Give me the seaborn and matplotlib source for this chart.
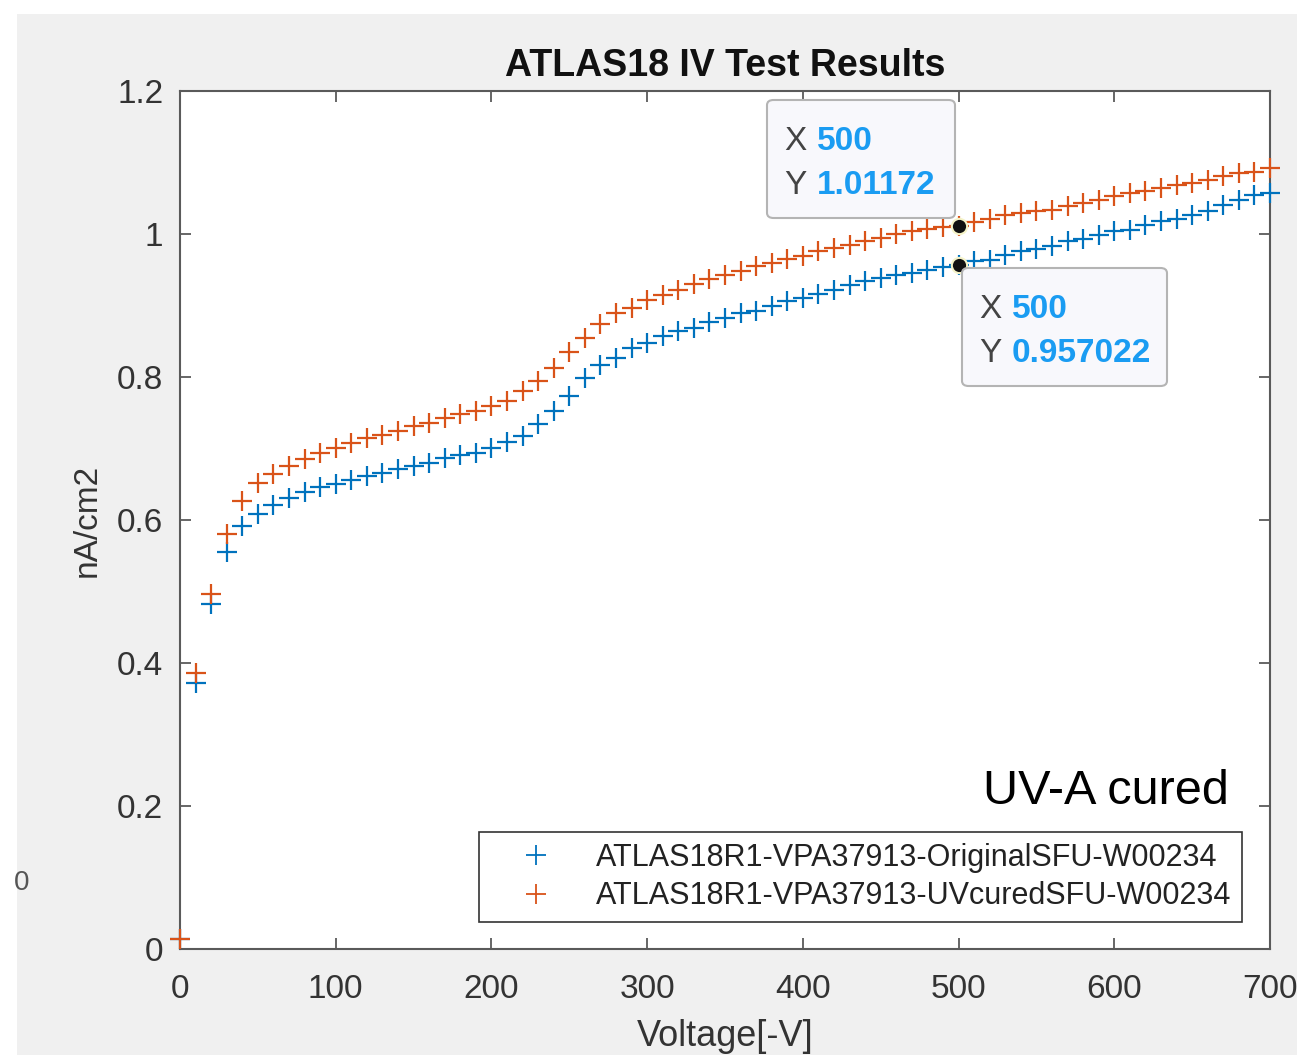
import matplotlib
matplotlib.use('Agg')
import matplotlib.pyplot as plt
import numpy as np
import pandas as pd
import seaborn as sns
from matplotlib.patches import Rectangle, FancyBboxPatch

# ---------------- data ----------------
voltage = list(range(0, 701, 10))
original = [0.014, 0.372, 0.482, 0.555, 0.591, 0.609, 0.621, 0.631, 0.639, 0.646,
            0.650, 0.656, 0.661, 0.666, 0.671, 0.676, 0.680, 0.687, 0.691, 0.694,
            0.701, 0.709, 0.718, 0.734, 0.753, 0.774, 0.798, 0.817, 0.827, 0.840,
            0.847, 0.857, 0.864, 0.868, 0.877, 0.883, 0.890, 0.893, 0.900, 0.906,
            0.910, 0.916, 0.922, 0.929, 0.934, 0.938, 0.943, 0.946, 0.950, 0.954,
            0.957022, 0.962, 0.964, 0.971, 0.976, 0.979, 0.983, 0.990, 0.993, 0.998,
            1.004, 1.006, 1.013, 1.018, 1.021, 1.026, 1.032, 1.041, 1.048, 1.055,
            1.057]
uvcured = [0.014, 0.386, 0.496, 0.580, 0.627, 0.652, 0.664, 0.676, 0.685, 0.694,
           0.701, 0.707, 0.715, 0.719, 0.725, 0.731, 0.736, 0.743, 0.748, 0.753,
           0.759, 0.767, 0.781, 0.794, 0.812, 0.835, 0.855, 0.874, 0.889, 0.897,
           0.908, 0.915, 0.921, 0.930, 0.937, 0.942, 0.948, 0.955, 0.959, 0.965,
           0.969, 0.976, 0.980, 0.985, 0.990, 0.995, 1.000, 1.004, 1.007, 1.010,
           1.01172, 1.017, 1.021, 1.026, 1.029, 1.032, 1.034, 1.039, 1.043, 1.048,
           1.053, 1.057, 1.060, 1.064, 1.069, 1.071, 1.076, 1.081, 1.085, 1.087,
           1.092]
label_orig = 'ATLAS18R1-VPA37913-OriginalSFU-W00234'
label_uv = 'ATLAS18R1-VPA37913-UVcuredSFU-W00234'
x_ticks = [0, 100, 200, 300, 400, 500, 600, 700]
y_ticks = [0, 0.2, 0.4, 0.6, 0.8, 1.0, 1.2]
y_tick_labels = ['0', '0.2', '0.4', '0.6', '0.8', '1', '1.2']
tip_voltage = 500
title = 'ATLAS18 IV Test Results'
xlabel = 'Voltage[-V]'
ylabel = 'nA/cm2'
annotation = 'UV-A cured'

# ---------------- style ----------------
sns.set_theme(style='white')
plt.rcParams['font.family'] = ['Liberation Sans', 'DejaVu Sans']

BLUE = '#0072BD'
ORANGE = '#D95319'
AXC = '#5a5a5a'

W, H = 1297, 1055
fig = plt.figure(figsize=(W / 100, H / 100), dpi=100)
fig.patch.set_facecolor('white')
fig.patches.append(Rectangle((17 / W, 0), 1, 1 - 14 / H, transform=fig.transFigure,
                             facecolor='#f0f0f0', edgecolor='none', zorder=-10))

ax = fig.add_axes([180 / W, 1 - 949 / H, 1090 / W, 858 / H])
ax.set_facecolor('white')

n = len(voltage)
df = pd.DataFrame({'V': voltage * 2,
                   'I': original + uvcured,
                   'series': [label_orig] * n + [label_uv] * n})

for lab, col in [(label_orig, BLUE), (label_uv, ORANGE)]:
    sub = df[df['series'] == lab]
    sns.lineplot(data=sub, x='V', y='I', ax=ax, color=col, marker='+',
                 linestyle='', markersize=15, markeredgewidth=1.6,
                 markeredgecolor=col, markerfacecolor=col,
                 errorbar=None, label=lab, clip_on=False, zorder=3)

ax.set_xlim(0, 700)
ax.set_ylim(0, 1.2)
ax.set_xticks(x_ticks)
ax.set_xticklabels([str(t) for t in x_ticks])
ax.set_yticks(y_ticks)
ax.set_yticklabels(y_tick_labels)
ax.tick_params(direction='in', length=8, width=1.3, color=AXC, labelcolor='#333333',
               labelsize=24, top=True, right=True, bottom=True, left=True)
ax.tick_params(axis='x', pad=18)
ax.tick_params(axis='y', pad=12)
for s in ax.spines.values():
    s.set_color(AXC)
    s.set_linewidth(1.5)
    s.set_visible(True)

ax.set_title(title, fontsize=27, fontweight='bold', pad=11, color='#111111')
ax.set_xlabel(xlabel, fontsize=26, color='#333333')
ax.set_ylabel(ylabel, fontsize=24, color='#333333')
ax.xaxis.set_label_coords(0.5, -0.082)
ax.yaxis.set_label_coords(-0.071, 0.5)

leg = ax.legend(loc='lower right', bbox_to_anchor=(0.974, 0.0315), fontsize=22,
                frameon=True, fancybox=False, edgecolor='#333333', framealpha=1,
                borderaxespad=0, handlelength=3.0, handletextpad=0.45,
                borderpad=0.35, labelspacing=0.27, markerscale=1.0)
leg.get_frame().set_linewidth(1.2)
for t in leg.get_texts():
    t.set_color('#222222')
for h in leg.legend_handles:
    h.set_markeredgewidth(1.3)

ax.text(0.962, 0.183, annotation, transform=ax.transAxes, fontsize=35,
        ha='right', va='center', color='black')

# data tips
idx = voltage.index(tip_voltage)
tips = [(uvcured[idx], (767, 100, 955, 218)), (original[idx], (962, 268, 1167, 386))]
for yv, (x0, y0, x1, y1) in tips:
    ax.plot([tip_voltage], [yv], 'o', color='#111111', markersize=11,
            markeredgecolor='#f5f3c8', markeredgewidth=1.5, zorder=6, clip_on=False)
    fx0, fx1 = (x0 - 180) / 1090, (x1 - 180) / 1090
    fy0, fy1 = (949 - y1) / 858, (949 - y0) / 858
    box = FancyBboxPatch((fx0, fy0), fx1 - fx0, fy1 - fy0,
                         boxstyle='round,pad=0,rounding_size=0.006',
                         transform=ax.transAxes, facecolor='#f8f8fc',
                         edgecolor='#b4b4b4', linewidth=1.5, zorder=7, clip_on=False)
    ax.add_patch(box)
    lx = (x0 + 17 - 180) / 1090
    vx = (x0 + 50 - 180) / 1090
    yx = (949 - (y0 + 41)) / 858
    yy = (949 - (y0 + 85)) / 858
    ax.text(lx, yx, 'X', transform=ax.transAxes, fontsize=24, color='#444444',
            va='center', ha='left', zorder=8)
    ax.text(vx, yx, f'{tip_voltage:g}', transform=ax.transAxes, fontsize=24,
            color='#1a9cf2', fontweight='bold', va='center', ha='left', zorder=8)
    ax.text(lx, yy, 'Y', transform=ax.transAxes, fontsize=24, color='#444444',
            va='center', ha='left', zorder=8)
    ax.text(vx, yy, f'{yv:g}', transform=ax.transAxes, fontsize=24,
            color='#1a9cf2', fontweight='bold', va='center', ha='left', zorder=8)

fig.text(22 / W, 1 - 883 / H, '0', fontsize=20, color='#555555', ha='center', va='center')

fig.savefig('out.png', dpi=100, facecolor=fig.get_facecolor())
